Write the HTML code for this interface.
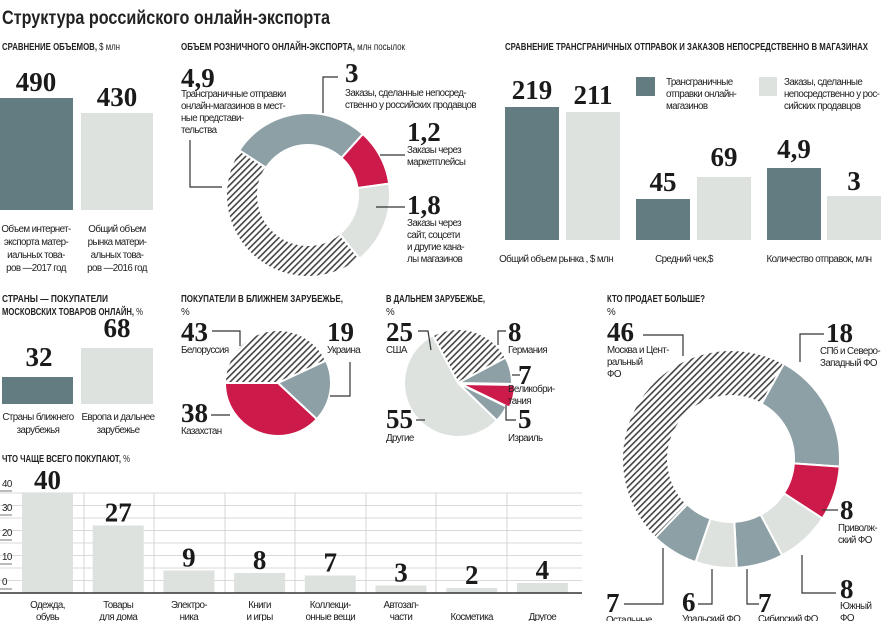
<!DOCTYPE html>
<html><head><meta charset="utf-8"><style>
html,body{margin:0;padding:0;background:#fff;}
svg{display:block;}
.t{font-family:"Liberation Sans","DejaVu Sans",sans-serif;font-size:9.8px;fill:#222;letter-spacing:-0.6px;}
.h{font-family:"Liberation Sans","DejaVu Sans",sans-serif;font-size:10px;font-weight:bold;fill:#222;}
.n{font-family:"Liberation Serif","DejaVu Serif",serif;font-size:27px;font-weight:bold;fill:#1a1a1a;}
.ln{stroke:#333;stroke-width:1.2;fill:none;}
</style></head><body>
<svg id="s" width="886" height="621" viewBox="0 0 886 621" xmlns="http://www.w3.org/2000/svg">
<defs>
<pattern id="hat" patternUnits="userSpaceOnUse" width="4.5" height="4.5" patternTransform="rotate(45)">
<rect width="4.5" height="4.5" fill="#fff"/><rect x="0" y="0" width="1.6" height="4.5" fill="#444"/>
</pattern>
</defs>
<text x="2" y="24" textLength="328" lengthAdjust="spacingAndGlyphs" style="font-family:'Liberation Sans',sans-serif;font-size:19px;font-weight:bold;fill:#222">Структура российского онлайн-экспорта</text>

<!-- section 1 -->
<text class="h" x="2" y="50" textLength="118" lengthAdjust="spacingAndGlyphs">СРАВНЕНИЕ ОБЪЕМОВ, <tspan style="font-weight:normal">$ млн</tspan></text>
<rect x="0" y="98" width="73" height="112" fill="#627c82"/>
<rect x="81" y="113" width="72" height="97" fill="#dde2df"/>
<text class="n" x="36" y="91" text-anchor="middle">490</text>
<text class="n" x="117" y="106" text-anchor="middle">430</text>
<g class="t" text-anchor="middle">
<text x="36" y="232">Объем интернет-</text><text x="36" y="245">экспорта матер-</text><text x="36" y="258">иальных това-</text><text x="36" y="271">ров —2017 год</text>
<text x="117" y="232">Общий объем</text><text x="117" y="245">рынка матери-</text><text x="117" y="258">альных това-</text><text x="117" y="271">ров —2016 год</text>
</g>

<!-- section 2 -->
<text class="h" x="181" y="50" textLength="224" lengthAdjust="spacingAndGlyphs">ОБЪЕМ РОЗНИЧНОГО ОНЛАЙН-ЭКСПОРТА, <tspan style="font-weight:normal">млн посылок</tspan></text>
<g id="d1"></g>
<text class="n" x="181" y="87">4,9</text>
<g class="t"><text x="181" y="97">Трансграничные отправки</text><text x="181" y="109">онлайн-магазинов в мест-</text><text x="181" y="121">ные представи-</text><text x="181" y="133">тельства</text></g>
<polyline class="ln" points="190,140 190,187 222,187"/>
<text class="n" x="345" y="82">3</text>
<polyline class="ln" points="338,77 323,77 323,113"/>
<g class="t"><text x="345" y="96">Заказы, сделанные непосред-</text><text x="345" y="108">ственно у российских продавцов</text></g>
<text class="n" x="407" y="141">1,2</text>
<polyline class="ln" points="380,155 405,155"/>
<g class="t"><text x="407" y="153">Заказы через</text><text x="407" y="165">маркетплейсы</text></g>
<text class="n" x="407" y="214">1,8</text>
<polyline class="ln" points="376,207 405,207"/>
<g class="t"><text x="407" y="226">Заказы через</text><text x="407" y="238">сайт, соцсети</text><text x="407" y="250">и другие кана-</text><text x="407" y="262">лы магазинов</text></g>

<!-- section 3 -->
<text class="h" x="505" y="50" textLength="363" lengthAdjust="spacingAndGlyphs">СРАВНЕНИЕ ТРАНСГРАНИЧНЫХ ОТПРАВОК И ЗАКАЗОВ НЕПОСРЕДСТВЕННО В МАГАЗИНАХ</text>
<rect x="505" y="107" width="54" height="133" fill="#627c82"/>
<rect x="566" y="112" width="54" height="128" fill="#dde2df"/>
<rect x="636" y="199" width="54" height="41" fill="#627c82"/>
<rect x="697" y="177" width="54" height="63" fill="#dde2df"/>
<rect x="767" y="168" width="54" height="72" fill="#627c82"/>
<rect x="827" y="196" width="54" height="44" fill="#dde2df"/>
<text class="n" x="532" y="99" text-anchor="middle">219</text>
<text class="n" x="593" y="104" text-anchor="middle">211</text>
<text class="n" x="663" y="191" text-anchor="middle">45</text>
<text class="n" x="724" y="166" text-anchor="middle">69</text>
<text class="n" x="794" y="158" text-anchor="middle">4,9</text>
<text class="n" x="854" y="190" text-anchor="middle">3</text>
<rect x="636" y="77" width="19" height="19" fill="#627c82"/>
<rect x="759" y="77" width="18" height="19" fill="#dde2df"/>
<g class="t"><text x="666" y="85">Трансграничные</text><text x="666" y="97">отправки онлайн-</text><text x="666" y="109">магазинов</text>
<text x="784" y="85">Заказы, сделанные</text><text x="784" y="97">непосредственно у рос-</text><text x="784" y="109">сийских продавцов</text></g>
<g class="t" text-anchor="middle"><text x="556" y="262">Общий объем рынка , $ млн</text><text x="684" y="262">Средний чек,$</text><text x="819" y="262">Количество отправок, млн</text></g>

<!-- section 4 -->
<text class="h" x="2" y="302" textLength="106" lengthAdjust="spacingAndGlyphs">СТРАНЫ — ПОКУПАТЕЛИ</text>
<text class="h" x="2" y="315" textLength="141" lengthAdjust="spacingAndGlyphs">МОСКОВСКИХ ТОВАРОВ ОНЛАЙН, <tspan style="font-weight:normal">%</tspan></text>
<rect x="2" y="377" width="71" height="27" fill="#627c82"/>
<rect x="81" y="348" width="72" height="56" fill="#dde2df"/>
<text class="n" x="39" y="366" text-anchor="middle">32</text>
<text class="n" x="117" y="337" text-anchor="middle">68</text>
<g class="t" text-anchor="middle"><text x="38" y="420">Страны ближнего</text><text x="38" y="433">зарубежья</text><text x="118" y="420">Европа и дальнее</text><text x="118" y="433">зарубежье</text></g>

<!-- pies -->
<text class="h" x="181" y="302" textLength="162" lengthAdjust="spacingAndGlyphs">ПОКУПАТЕЛИ В БЛИЖНЕМ ЗАРУБЕЖЬЕ,</text>
<text class="t" x="181" y="315">%</text>
<text class="h" x="386" y="302" textLength="99" lengthAdjust="spacingAndGlyphs">В ДАЛЬНЕМ ЗАРУБЕЖЬЕ,</text>
<text class="t" x="386" y="315">%</text>
<g id="p"></g>
<text class="n" x="181" y="341">43</text><text class="t" x="181" y="353">Белоруссия</text>
<polyline class="ln" points="212,331 240,331 240,346"/>
<text class="n" x="327" y="341">19</text><text class="t" x="327" y="353">Украина</text>
<polyline class="ln" points="350,362 350,396 330,396"/>
<text class="n" x="181" y="422">38</text><text class="t" x="181" y="434">Казахстан</text>
<polyline class="ln" points="211,415 230,415"/>
<text class="n" x="386" y="341">25</text><text class="t" x="386" y="353">США</text>
<polyline class="ln" points="418,331 428,331 431,350"/>
<text class="n" x="508" y="341">8</text><text class="t" x="508" y="353">Германия</text>
<polyline class="ln" points="506,331 498,331 498,345"/>
<text class="n" x="518" y="384">7</text><text class="t" x="508" y="392">Великобри-</text><text class="t" x="508" y="404">тания</text>
<polyline class="ln" points="512,375 520,375"/>
<text class="n" x="386" y="428">55</text><text class="t" x="386" y="441">Другие</text>
<polyline class="ln" points="416,420 425,420"/>
<text class="n" x="518" y="428">5</text><text class="t" x="508" y="441">Израиль</text>
<polyline class="ln" points="506,405 506,420 516,420"/>

<!-- big donut -->
<text class="h" x="607" y="302" textLength="98" lengthAdjust="spacingAndGlyphs">КТО ПРОДАЕТ БОЛЬШЕ?</text>
<text class="t" x="607" y="315">%</text>
<g id="d2"></g>
<text class="n" x="607" y="341">46</text>
<g class="t"><text x="607" y="353">Москва и Цент-</text><text x="607" y="365">ральный</text><text x="607" y="377">ФО</text></g>
<polyline class="ln" points="643,335 683,335 683,356"/>
<text class="n" x="826" y="342">18</text>
<g class="t"><text x="820" y="354">СПб и Северо-</text><text x="820" y="366">Западный ФО</text></g>
<polyline class="ln" points="824,334 800,334 800,362"/>
<text class="n" x="840" y="519">8</text>
<g class="t"><text x="838" y="531">Приволж-</text><text x="838" y="543">ский ФО</text></g>
<polyline class="ln" points="822,510 838,510"/>
<text class="n" x="840" y="598">8</text>
<g class="t"><text x="840" y="609">Южный</text><text x="840" y="621">ФО</text></g>
<polyline class="ln" points="802,555 802,593 836,593"/>
<text class="n" x="606" y="612">7</text>
<polyline class="ln" points="624,604 663,604 663,548"/>
<text class="n" x="682" y="611">6</text>
<polyline class="ln" points="698,604 712,604 712,569"/>
<text class="n" x="758" y="612">7</text>
<polyline class="ln" points="759,604 747,604 747,569"/>
<g class="t"><text x="606" y="623">Остальные</text><text x="682" y="622">Уральский ФО</text><text x="758" y="622">Сибирский ФО</text></g>

<!-- bottom bars -->
<text class="h" x="2" y="462" textLength="128" lengthAdjust="spacingAndGlyphs">ЧТО ЧАЩЕ ВСЕГО ПОКУПАЮТ, <tspan style="font-weight:normal">%</tspan></text>
<g id="bb"></g>
</svg>
<script>
var NS="http://www.w3.org/2000/svg";
function el(p,t,a){var e=document.createElementNS(NS,t);for(var k in a)e.setAttribute(k,a[k]);document.getElementById(p).appendChild(e);return e;}
function pt(cx,cy,r,a){a=a*Math.PI/180;return [cx+r*Math.sin(a),cy-r*Math.cos(a)];}
function seg(cx,cy,r,ri,a0,a1){var L=(a1-a0)>180?1:0;var p1=pt(cx,cy,r,a0),p2=pt(cx,cy,r,a1);
 if(ri<=0)return "M"+cx+","+cy+"L"+p1+"A"+r+","+r+" 0 "+L+" 1 "+p2+"Z";
 var q1=pt(cx,cy,ri,a1),q2=pt(cx,cy,ri,a0);
 return "M"+p1+"A"+r+","+r+" 0 "+L+" 1 "+p2+"L"+q1+"A"+ri+","+ri+" 0 "+L+" 0 "+q2+"Z";}
var G="#8da0a6",R="#cc1a4a",Lg="#dde2df",H="url(#hat)";
function donut(id,cx,cy,r,ri,list){list.forEach(function(s){el(id,"path",{d:seg(cx,cy,r,ri,s[0],s[1]),fill:s[2],stroke:"#fff","stroke-width":2});});}
donut("d1",308,195,82,50,[[-57,42,G],[42,82,R],[82,141,Lg],[141,303,H]]);
donut("d2",731,459,109,63,[[29,94,G],[94,123,R],[123,152,Lg],[152,177,G],[177,199,Lg],[199,224,G],[224,389,H]]);
donut("p",278,383,53,0,[[-90,65,H],[65,133,G],[133,270,R]]);
donut("p",458,383,54,0,[[-28,62,H],[62,91,G],[116,134,G],[134,332,Lg]]);
el("p","path",{d:seg(461,384,54,0,91,116),fill:R,stroke:"#fff","stroke-width":2});
var i,y;
for(i=0;i<=8;i++){y=493+i*12.5;el("bb","line",{x1:0,x2:582,y1:y,y2:y,stroke:"#ccc","stroke-width":0.8});}
var xs=[84,154,225,295,366,436,507];xs.forEach(function(x){el("bb","line",{x1:x,x2:x,y1:493,y2:593,stroke:"#ccc","stroke-width":0.8});});
var tl=[["40",487],["30",511],["20",536],["10",560],["0",585]];
tl.forEach(function(t){var e=el("bb","text",{x:2,y:t[1],"class":"t"});e.textContent=t[0];el("bb","line",{x1:0,x2:12,y1:t[1]+4,y2:t[1]+4,stroke:"#555","stroke-width":0.8});});
var v=[40,27,9,8,7,3,2,4];
var lab=[["Одежда,","обувь"],["Товары","для дома"],["Электро-","ника"],["Книги","и игры"],["Коллекци-","онные вещи"],["Автозап-","части"],["","Косметика"],["","Другое"]];
v.forEach(function(val,k){var x=22+k*70.7,h=val*2.5;el("bb","rect",{x:x,y:593-h,width:51,height:h,fill:"#dde2df"});
 var n=el("bb","text",{x:x+25.5,y:593-h-4,"class":"n","text-anchor":"middle"});n.textContent=val;
 lab[k].forEach(function(s,j){if(!s)return;var t=el("bb","text",{x:x+25.5,y:608+j*12,"class":"t","text-anchor":"middle"});t.textContent=s;});});
el("bb","line",{x1:0,x2:582,y1:593,y2:593,stroke:"#333","stroke-width":1.5});
</script>
</body></html>
